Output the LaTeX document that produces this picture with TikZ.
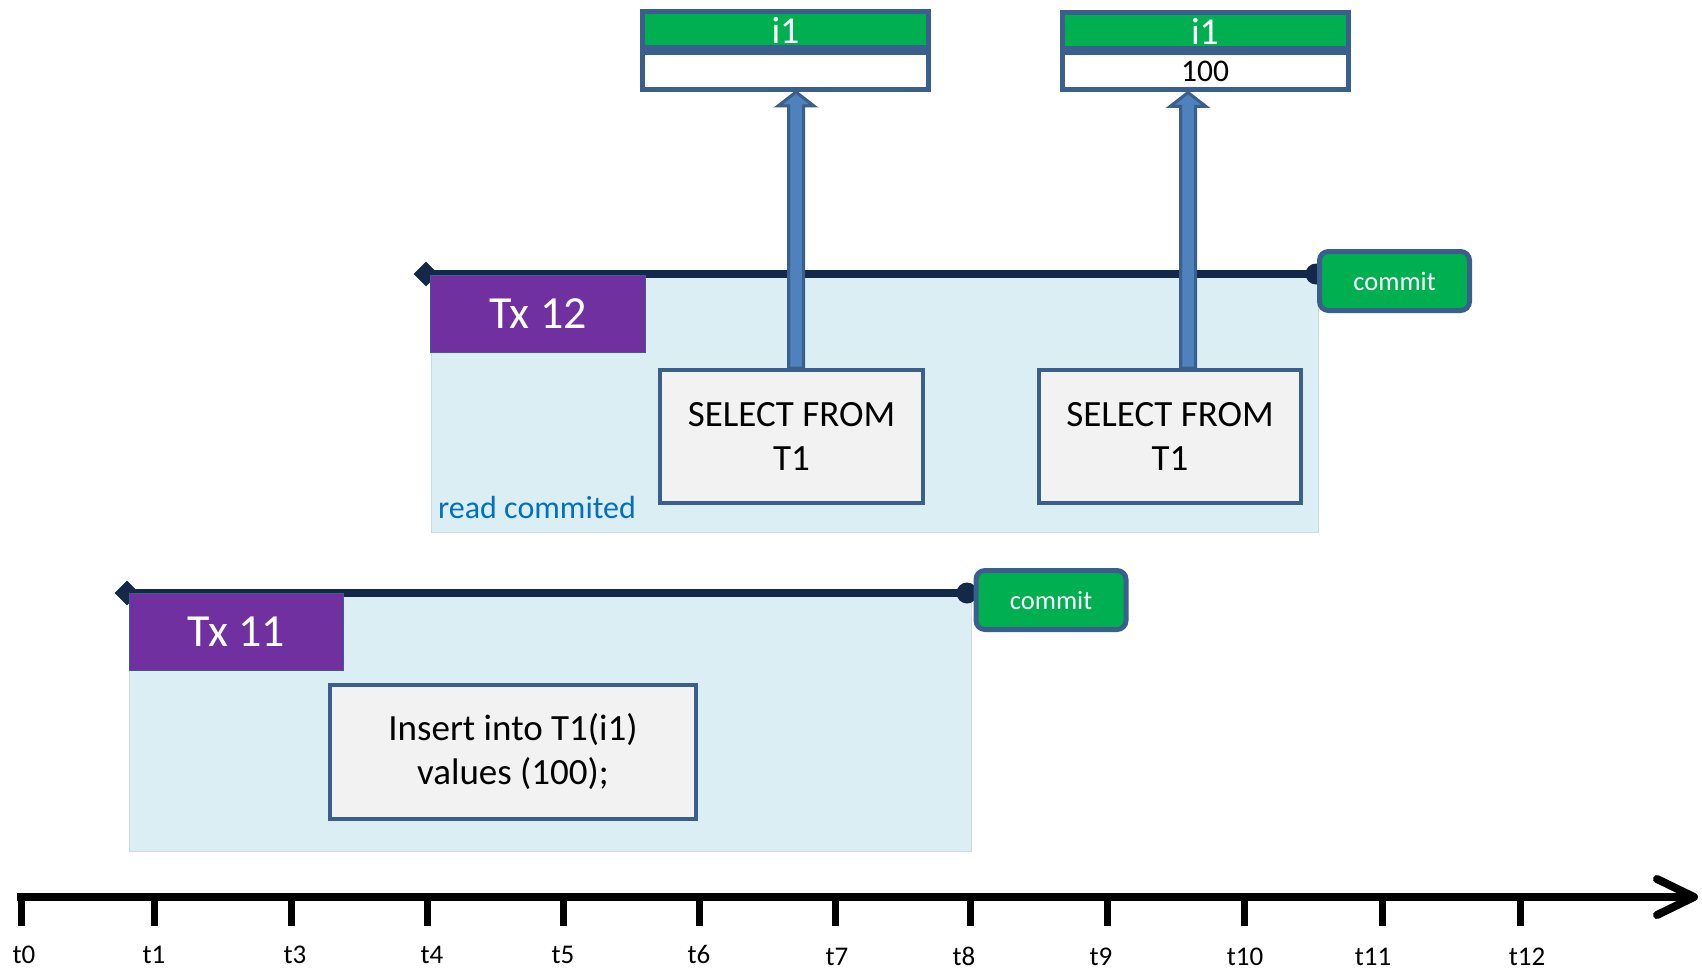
\documentclass[tikz,border=0pt]{standalone}
\usepackage{fontspec}
\setmainfont{Carlito}
\usetikzlibrary{shapes.geometric,calc}

\definecolor{boxgreen}{HTML}{00B050}
\definecolor{txpurple}{HTML}{7030A0}
\definecolor{txbg}{HTML}{DBEEF4}
\definecolor{edgeblue}{HTML}{3A5F8D}
\definecolor{arrowblue}{HTML}{4F81BD}
\definecolor{barnavy}{HTML}{14294A}
\definecolor{stmtgray}{HTML}{F2F2F2}
\definecolor{noteblue}{HTML}{0070C0}

\newcommand\setfs[2]{\fontsize{#1pt}{#2pt}\selectfont}

\tikzset{
  txbgbox/.style={fill=txbg, draw=txbg!92!black, line width=0.8pt, anchor=north west, inner sep=0},
  txbar/.style={draw=barnavy, line width=8pt},
  txstart/.style={diamond, fill=barnavy, minimum size=25pt, inner sep=0},
  txend/.style={circle, fill=barnavy, minimum size=21pt, inner sep=0},
  txlabel/.style={fill=txpurple, draw=edgeblue, line width=1pt, text=white, font=\setfs{46}{55},
    anchor=north west, inner sep=0, minimum height=77pt},
  commitbox/.style={fill=boxgreen, draw=edgeblue, line width=5pt, rounded corners=9pt, text=white,
    font=\setfs{26.5}{32}, minimum width=150pt, minimum height=59pt, inner sep=0},
  stmtbox/.style={fill=stmtgray, draw=edgeblue, line width=4pt, align=center,
    font=\setfs{37}{44}, inner sep=0, minimum height=133pt},
  headbox/.style={fill=boxgreen, draw=edgeblue, line width=5pt, text=white, font=\setfs{38}{40},
    inner sep=0, minimum width=286pt, minimum height=36pt},
  valbox/.style={fill=white, draw=edgeblue, line width=5pt, font=\setfs{31.5}{34},
    inner sep=0, minimum width=286pt, minimum height=37pt},
  blockarrow/.style={fill=arrowblue, draw=edgeblue, line width=3pt, line join=miter},
  axisline/.style={line width=8pt, draw=black},
  tickmark/.style={line width=7pt, draw=black},
  ticklabel/.style={font=\setfs{27}{30}, anchor=base, inner sep=0},
  note/.style={text=noteblue, font=\setfs{32}{36}, anchor=base west, inner sep=0},
}

\begin{document}
\begin{tikzpicture}[x=1pt, y=-1pt]
\useasboundingbox (0,0) rectangle (1702,971);

% ---------- transaction 12 ----------
\node[txbgbox, minimum width=887pt, minimum height=257pt] (bg12) at (431,275) {};
\node[txstart] (s12) at (426,274) {};
\node[txend] (e12) at (1316,274) {};
\draw[txbar] (s12.center) -- (e12.center);
\node[txlabel, minimum width=215pt] (tx12) at (430,275) {Tx 12};
\node[commitbox] (c12) at (1394.5,281) {commit};
\node[note] (iso) at (438,518) {read commited};

\node[stmtbox, minimum width=263pt] (sel1) at (791.5,436.5) {SELECT FROM\\T1};
\node[stmtbox, minimum width=262pt] (sel2) at (1170,436.5) {SELECT FROM\\T1};

% ---------- transaction 11 ----------
\node[txbgbox, minimum width=842pt, minimum height=257pt] (bg11) at (129,594) {};
\node[txstart] (s11) at (127,593) {};
\node[txend] (e11) at (967,593) {};
\draw[txbar] (s11.center) -- (e11.center);
\node[txlabel, minimum width=214pt] (tx11) at (129,593) {Tx 11};
\node[commitbox] (c11) at (1051,600) {commit};
\node[stmtbox, minimum width=366pt, minimum height=134pt] (ins) at (513,752) {Insert into T1(i1)\\values (100);};

% ---------- row snapshots ----------
\node[headbox] (key1) at (785.5,30) {i1};
\node[valbox] (val1) at (785.5,71) {};
\node[headbox] (key2) at (1205,31) {i1};
\node[valbox] (val2) at (1205,71.5) {100};

% ---------- reads ----------
\coordinate (r1) at ($(sel1.north)+(4.5,0)$);
\coordinate (t1) at (r1 |- val1.south);
\coordinate (r2) at ($(sel2.north)+(18,0)$);
\coordinate (t2) at (r2 |- val2.south);
\draw[blockarrow] ($(r1)+(-7.5,0)$) -- ($(t1)+(-7.5,14)$) -- ($(t1)+(-18,14)$) -- (t1)
  -- ($(t1)+(18,14)$) -- ($(t1)+(7.5,14)$) -- ($(r1)+(7.5,0)$) -- cycle;
\draw[blockarrow] ($(r2)+(-7.5,0)$) -- ($(t2)+(-7.5,14)$) -- ($(t2)+(-18,14)$) -- (t2)
  -- ($(t2)+(18,14)$) -- ($(t2)+(7.5,14)$) -- ($(r2)+(7.5,0)$) -- cycle;

% ---------- time axis ----------
\coordinate (ax0) at (17,897);
\coordinate (axend) at (1694,897);
\draw[axisline] (ax0) -- ($(axend)+(-4,0)$);
\draw[axisline, line cap=round, line join=round] ($(axend)+(-37,-18)$) -- (axend) -- ($(axend)+(-37,18)$);
\foreach \x/\lx/\ly/\t in {21/24/963/t0, 154/154/963/t1, 291/295/963/t3, 427/432/963/t4,
  563/563/963/t5, 699/699/963/t6, 835/837/965/t7, 970/964/965/t8, 1107/1101/965/t9,
  1244/1245/965/t10, 1382/1373/965/t11, 1520/1527/965/t12}{
  \draw[tickmark] (\x,895) -- (\x,926);
  \node[ticklabel] (lab-\t) at (\lx,\ly) {\t};
}
\end{tikzpicture}
\end{document}
